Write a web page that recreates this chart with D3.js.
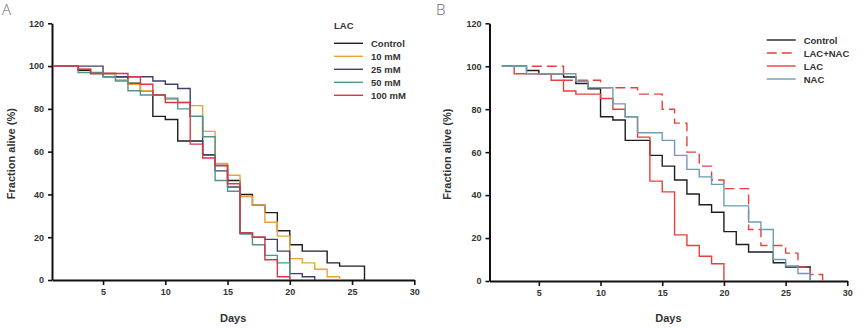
<!DOCTYPE html>
<html><head><meta charset="utf-8">
<script src="https://cdn.jsdelivr.net/npm/d3@7"></script>
<style>body{margin:0;background:#fff}svg{display:block}text{font-family:"Liberation Sans",Arial,sans-serif}</style>
</head><body><svg id="c" width="866" height="328"></svg>
<script>
// ---- data: [day, % alive] step points ----
const aControl = [[1,100],[3,98],[4,96.5],[6,95],[7,92],[8,88.5],[9,76.5],[10,75],[11,65],[13,58.5],[14,53.5],[15,46.5],[16,40],[17,35],[18,31.5],[19,23],[20,16.5],[21,13.5],[23,8],[24,6.5],[26,0]];
const a10mM = [[1,100],[3,98.5],[4,96.5],[6,93.5],[7,91.5],[8,88.5],[9,86.5],[10,84.5],[11,83],[12,81.5],[13,69.5],[14,54.5],[15,49],[16,39],[17,35],[18,27],[19,20.5],[20,10],[21,8],[22,5],[23,1.5],[24,0]];
const a25mM = [[1,100],[5,95],[9,93],[10,91.5],[11,89.5],[12,76.5],[13,58.5],[14,51],[15,43.5],[16,22],[17,20],[18,19],[19,13.5],[20,3],[21,1.5],[22,0]];
const a50mM = [[1,100],[3,97],[5,95],[6,93],[7,88.5],[8,86.5],[10,85],[11,80],[12,76.5],[13,67],[14,46.5],[15,41.5],[16,21.5],[17,16.5],[18,11.5],[19,8],[20,0]];
const a100mM = [[1,100],[3,98.5],[4,96.5],[7,95],[8,91.5],[9,86.5],[10,83],[12,63.5],[13,57],[14,53.5],[15,45],[16,22],[17,20],[18,9.5],[19,1.5],[20,0]];

const bControl = [[2,100],[4,98],[5,96.5],[7,95],[8,92],[9,89.5],[10,76.5],[11,75],[12,65.5],[14,58.5],[15,53.5],[16,47],[17,40.5],[18,35.5],[19,32],[20,23],[21,17],[22,13.5],[24,8.5],[25,6.5],[27,0]];
const bLacNac = [[2,100],[7,93.5],[10,90],[13,87],[15,80],[16,73.5],[17,60],[18,53.5],[19,47],[20,43],[22,24],[23,16.5],[25,13],[26,6.5],[27,3],[28,0]];
const bLac = [[2,100],[3,96.5],[6,93.5],[7,88.5],[8,87],[10,85],[11,80],[12,76.5],[13,67],[14,46.5],[15,41.5],[16,21.5],[17,16.5],[18,11.5],[19,8],[20,0]];
const bNac = [[2,100],[4,96.5],[8,93],[9,90],[11,82.5],[12,76.5],[13,69],[15,65.5],[16,58.5],[17,52],[18,48.5],[19,45],[20,35],[22,27.5],[23,24],[24,10],[25,7],[26,3.5],[27,0]];

const xTicks = [5,10,15,20,25,30];
const yTicks = [0,20,40,60,80,100,120];
const aLabels = ["Control","10 mM","25 mM","50 mM","100 mM"];
const bLabels = ["Control","LAC+NAC","LAC","NAC"];

const svg = d3.select("#c");

function panel(cfg){
  const g = svg.append("g");
  const x = d3.scaleLinear().domain([cfg.x0,30]).range([cfg.left, cfg.right]);
  const y = d3.scaleLinear().domain([0,120]).range([cfg.bottom, cfg.top]);
  // axes
  const xa = g.append("g").attr("transform",`translate(0,${cfg.bottom})`)
    .call(d3.axisBottom(x).tickValues(xTicks).tickSize(5).tickPadding(4).tickSizeOuter(0));
  const ya = g.append("g").attr("transform",`translate(${cfg.left},0)`)
    .call(d3.axisLeft(y).tickValues(yTicks).tickSize(4).tickPadding(4).tickSizeOuter(0));
  [xa,ya].forEach(a=>{
    a.select(".domain").attr("stroke","#111").attr("stroke-width",2);
    a.selectAll(".tick line").attr("stroke","#111").attr("stroke-width",1.6);
    a.selectAll(".tick text").attr("fill","#333").style("font-size","9px").style("font-weight","bold");
  });
  // lines
  const line = d3.line().x(d=>x(d[0])).y(d=>y(d[1])).curve(d3.curveStepAfter);
  cfg.series.forEach(s=>{
    g.append("path").datum(s.data).attr("d",line).attr("fill","none")
      .attr("stroke",s.color).attr("stroke-width",1.4)
      .attr("stroke-dasharray",s.dash||null);
  });
  // titles
  g.append("text").attr("x",(cfg.left+cfg.right)/2).attr("y",322).attr("text-anchor","middle")
    .style("font-size","11px").style("font-weight","bold").attr("fill","#333").text("Days");
  g.append("text").attr("transform",`translate(${cfg.ytx},${(cfg.top+cfg.bottom)/2+2}) rotate(-90)`)
    .attr("text-anchor","middle").style("font-size","11px").style("font-weight","bold").attr("fill","#333")
    .text("Fraction alive (%)");
  g.append("text").attr("x",cfg.letterX).attr("y",15).style("font-size","15px").attr("fill","#666")
    .style("font-family","'Open Sans',sans-serif").style("font-weight","300").text(cfg.letter);
  // legend
  if(cfg.legendTitle){
    g.append("text").attr("x",cfg.lx).attr("y",cfg.ly-14).style("font-size","9.5px").style("font-weight","bold")
      .attr("fill","#333").text(cfg.legendTitle);
  }
  cfg.series.forEach((s,i)=>{
    const yy = cfg.ly + i*13;
    g.append("line").attr("x1",cfg.lx).attr("x2",cfg.lx+29).attr("y1",yy).attr("y2",yy)
      .attr("stroke",s.color).attr("stroke-width",1.4).attr("stroke-dasharray",s.dash||null);
    g.append("text").attr("x",cfg.lx+37).attr("y",yy+3.5).style("font-size","9.5px").style("font-weight","bold")
      .attr("fill","#333").text(s.label);
  });
}

panel({x0:0.9,left:52,right:414.3,top:23.3,bottom:280,ytx:15,letter:"A",letterX:2,
  legendTitle:"LAC",lx:334,ly:43.3,
  series:[
    {label:aLabels[0],data:aControl,color:"#1e1e1e"},
    {label:aLabels[1],data:a10mM,color:"#e8a43a"},
    {label:aLabels[2],data:a25mM,color:"#3e416c"},
    {label:aLabels[3],data:a50mM,color:"#4f9689"},
    {label:aLabels[4],data:a100mM,color:"#d9364a"}
  ]});
panel({x0:1,left:489.5,right:847.3,top:23.3,bottom:281,ytx:451,letter:"B",letterX:436,
  legendTitle:null,lx:766.7,ly:40,
  series:[
    {label:bLabels[0],data:bControl,color:"#1e1e1e"},
    {label:bLabels[1],data:bLacNac,color:"#e8403c",dash:"10,5"},
    {label:bLabels[2],data:bLac,color:"#e8403c"},
    {label:bLabels[3],data:bNac,color:"#6e9cb6"}
  ]});
</script></body></html>
